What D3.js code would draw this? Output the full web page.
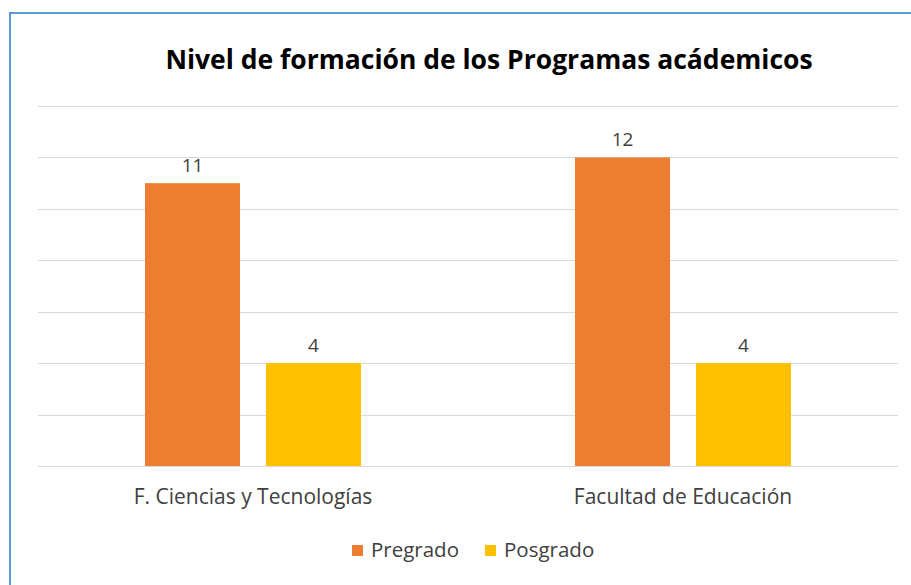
<!DOCTYPE html>
<meta charset="utf-8">
<head>
    <title>Nivel de formación</title>
    <script src="https://d3js.org/d3.v7.min.js"></script>
    <style>
        body { margin: 0; background: #fff; }
        svg text { font-family: "Open Sans", "Lato", sans-serif; }
    </style>
</head>
<body>
<div id="chart"></div>
<script>
    // data
    var categories = ["F. Ciencias y Tecnologías", "Facultad de Educación"]
    var seriesNames = ["Pregrado", "Posgrado"]
    var pregrado = [11, 12]
    var posgrado = [4, 4]
    var colors = ["#ED7D31", "#FFC000"]

    var width = 911, height = 585

    var svg = d3.select("#chart")
        .append("svg")
        .attr("width", width)
        .attr("height", height)

    // outer frame (only left and top are visible)
    svg.append("rect")
        .attr("x", 10)
        .attr("y", 13)
        .attr("width", 1000)
        .attr("height", 1000)
        .style("fill", "none")
        .style("stroke", "#5B9BD5")
        .style("stroke-width", 2)

    var plot = {left: 38, right: 898, top: 106, bottom: 466}

    var x0 = d3.scaleBand()
        .domain(categories)
        .range([plot.left, plot.right])

    var x1 = d3.scaleBand()
        .domain(seriesNames)
        .range([x0.bandwidth() / 2 - 108, x0.bandwidth() / 2 + 108])
        .paddingInner(0.215)

    var y = d3.scaleLinear()
        .domain([0, 14])
        .range([plot.bottom, plot.top])

    // gridlines
    svg.append("g")
        .selectAll("line")
        .data(d3.range(0, 15, 2))
        .enter()
        .append("line")
        .attr("x1", plot.left)
        .attr("x2", plot.right)
        .attr("y1", function (d) { return Math.round(y(d)) + 0.5 })
        .attr("y2", function (d) { return Math.round(y(d)) + 0.5 })
        .style("stroke", "#D9D9D9")
        .style("stroke-width", 1)

    var rows = []
    categories.forEach(function (c, i) {
        rows.push({cat: c, name: seriesNames[0], value: pregrado[i], color: colors[0]})
        rows.push({cat: c, name: seriesNames[1], value: posgrado[i], color: colors[1]})
    })

    var bars = svg.append("g")
        .selectAll("g")
        .data(rows)
        .enter()
        .append("g")

    bars.append("rect")
        .attr("x", function (d) { return x0(d.cat) + x1(d.name) })
        .attr("y", function (d) { return y(d.value) })
        .attr("width", x1.bandwidth())
        .attr("height", function (d) { return y(0) - y(d.value) })
        .style("fill", function (d) { return d.color })

    // value labels
    bars.append("text")
        .attr("x", function (d) { return x0(d.cat) + x1(d.name) + x1.bandwidth() / 2 })
        .attr("y", function (d) { return y(d.value) - 11 })
        .attr("text-anchor", "middle")
        .style("font-size", "19px")
        .style("fill", "#404040")
        .text(function (d) { return d.value })

    // category labels
    svg.append("g")
        .selectAll("text")
        .data(categories)
        .enter()
        .append("text")
        .attr("x", function (d) { return x0(d) + x0.bandwidth() / 2 })
        .attr("y", 504)
        .attr("text-anchor", "middle")
        .style("font-size", "21px")
        .style("fill", "#404040")
        .text(function (d) { return d })

    // title
    svg.append("text")
        .attr("x", 489)
        .attr("y", 69)
        .attr("text-anchor", "middle")
        .style("font-size", "26.5px")
        .style("font-weight", "bold")
        .style("fill", "#000")
        .text("Nivel de formación de los Programas acádemicos")

    // legend
    var legendX = [352, 485]
    var legend = svg.append("g")
        .selectAll("g")
        .data(seriesNames)
        .enter()
        .append("g")
        .attr("transform", function (d, i) { return "translate(" + legendX[i] + ", 550)" })

    legend.append("rect")
        .attr("x", 0)
        .attr("y", -5)
        .attr("width", 11)
        .attr("height", 11)
        .style("fill", function (d, i) { return colors[i] })

    legend.append("text")
        .attr("x", 19)
        .attr("y", 7)
        .style("font-size", "20.5px")
        .style("fill", "#404040")
        .text(function (d) { return d })
</script>
</body>
